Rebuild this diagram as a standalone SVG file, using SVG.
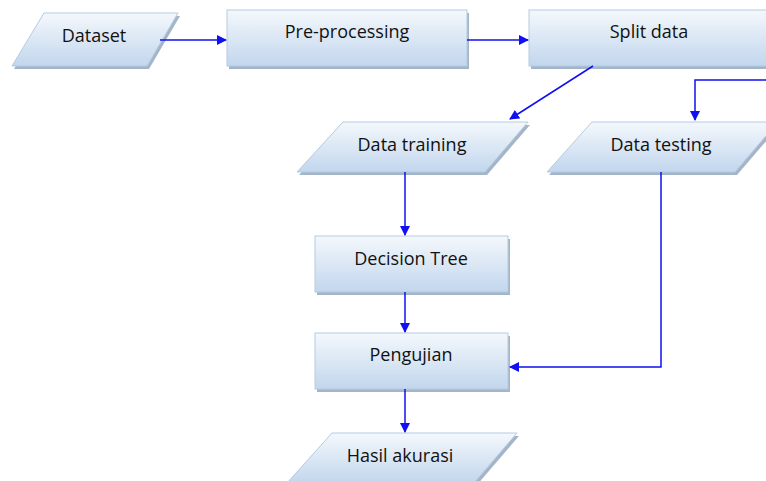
<svg xmlns="http://www.w3.org/2000/svg" width="766" height="481" viewBox="0 0 766 481">
<defs>
<linearGradient id="g" x1="0" y1="0" x2="0" y2="1">
<stop offset="0" stop-color="#f4f8fc"/>
<stop offset="1" stop-color="#c2d6ed"/>
</linearGradient>
<marker id="ah" viewBox="0 0 10 10" refX="9" refY="5" markerWidth="10" markerHeight="10" markerUnits="userSpaceOnUse" orient="auto">
<path d="M0,0 L10,5 L0,10 z" fill="#1010f0"/>
</marker>
</defs>
<style>
.sh{fill:#8fa3ba;opacity:0.8}
.nd{fill:url(#g);stroke:#b4cbe3;stroke-width:1}
.t{font-family:"Open Sans","Liberation Sans",sans-serif;font-size:18px;fill:#111111;text-anchor:middle}
.c{fill:none;stroke:#1010f0;stroke-width:1.5;marker-end:url(#ah)}
</style>
<rect width="766" height="481" fill="#ffffff"/>
<g id="n-dataset">
<polygon class="sh" points="46,16 180,16 149,69 14,69"/>
<polygon class="nd" points="44,13 178,13 147,66 12,66"/>
<text class="t" x="94" y="42">Dataset</text>
</g>
<g id="n-preprocessing">
<rect class="sh" x="229" y="13" width="240" height="56"/>
<rect class="nd" x="227" y="10" width="240" height="56"/>
<text class="t" x="347" y="38">Pre-processing</text>
</g>
<g id="n-split">
<rect class="sh" x="531" y="13" width="250" height="56"/>
<rect class="nd" x="529" y="10" width="250" height="56"/>
<text class="t" x="649" y="38">Split data</text>
</g>
<g id="n-training">
<polygon class="sh" points="345,125 530,125 487,175 299,175"/>
<polygon class="nd" points="343,122 528,122 485,172 297,172"/>
<text class="t" x="412" y="151">Data training</text>
</g>
<g id="n-testing">
<polygon class="sh" points="594,125 780,125 737,175 549,175"/>
<polygon class="nd" points="592,122 778,122 735,172 547,172"/>
<text class="t" x="661" y="151">Data testing</text>
</g>
<g id="n-dt">
<rect class="sh" x="317" y="239" width="193" height="56"/>
<rect class="nd" x="315" y="236" width="193" height="56"/>
<text class="t" x="411" y="265">Decision Tree</text>
</g>
<g id="n-pengujian">
<rect class="sh" x="317" y="336" width="193" height="56"/>
<rect class="nd" x="315" y="333" width="193" height="56"/>
<text class="t" x="411" y="361">Pengujian</text>
</g>
<g id="n-hasil">
<polygon class="sh" points="334,436 519,436 476,486 289,486"/>
<polygon class="nd" points="332,433 517,433 474,483 287,483"/>
<text class="t" x="400" y="462">Hasil akurasi</text>
</g>
<g id="connectors">
<path class="c" d="M160,40 L226,40"/>
<path class="c" d="M467,40 L528,40"/>
<path class="c" d="M593,66 L510,119"/>
<path class="c" d="M766,80 L695,80 L695,120"/>
<path class="c" d="M405,172 L405,235"/>
<path class="c" d="M405,292 L405,332"/>
<path class="c" d="M661,172 L661,367 L510,367"/>
<path class="c" d="M405,389 L405,432"/>
</g>
</svg>
